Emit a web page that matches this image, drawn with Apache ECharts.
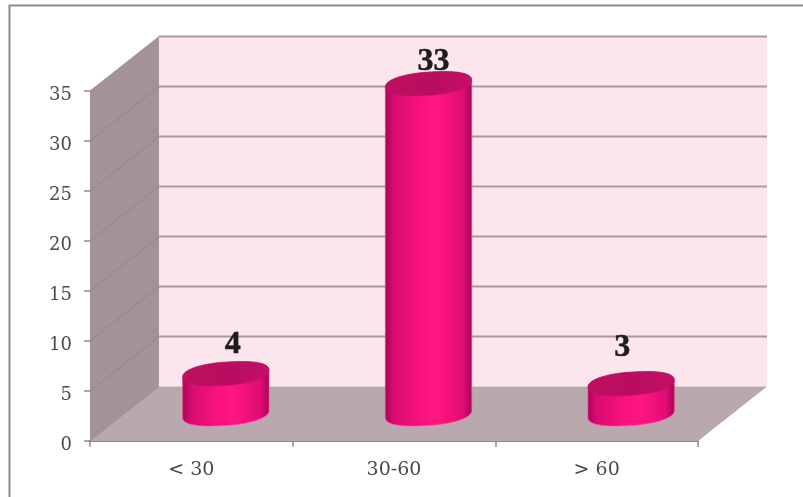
<!DOCTYPE html>
<html>
<head>
<meta charset="utf-8">
<style>html,body{margin:0;padding:0;background:#fff}#chart{width:803px;height:497px}</style>
<script src="https://cdn.jsdelivr.net/npm/echarts@6/dist/echarts.min.js"></script>
</head>
<body>
<div id="chart"></div>
<script>
// Age groups and their counts
const categories = ['< 30', '30-60', '> 60'];
const counts = [4, 33, 3];
const yTicks = [0, 5, 10, 15, 20, 25, 30, 35];

// Fake-3D depth of the plot box, in pixels
const DEPTH_X = 69, DEPTH_Y = -54.5;
// Hand-placed value labels, relative to the centre of each cylinder top
const labelNudge = [[7, -29], [5, -22], [-9, -36]];

const SERIF = '"DejaVu Serif", serif';
const chart = echarts.init(document.getElementById('chart'));

function poly(points, style) {
  return { type: 'polygon', shape: { points }, style, silent: true };
}

// Back wall, side wall and floor
function renderBox(params, api) {
  const c = params.coordSys;
  const l = c.x, r = c.x + c.width, t = c.y, b = c.y + c.height;
  return {
    type: 'group',
    children: [
      poly([[l + DEPTH_X, t + DEPTH_Y], [r + DEPTH_X, t + DEPTH_Y], [r + DEPTH_X, b + DEPTH_Y], [l + DEPTH_X, b + DEPTH_Y]], { fill: '#fde5ee' }),
      poly([[l, t], [l + DEPTH_X, t + DEPTH_Y], [l + DEPTH_X, b + DEPTH_Y], [l, b]], { fill: '#a3929a' }),
      poly([[l, b], [l + DEPTH_X, b + DEPTH_Y], [r + DEPTH_X, b + DEPTH_Y], [r, b]], { fill: '#b9a9ae' })
    ]
  };
}

// One gridline per tick: a diagonal across the side wall, then a run along the back wall
function renderGridline(params, api) {
  const c = params.coordSys;
  const y = api.coord([0, api.value(1)])[1];
  const l = c.x, r = c.x + c.width;
  const isFloor = api.value(1) === 0;
  return {
    type: 'group',
    children: [
      { type: 'line', silent: true,
        shape: { x1: l, y1: y, x2: l + DEPTH_X, y2: y + DEPTH_Y },
        style: { stroke: '#8a7a82', lineWidth: 1, opacity: 0.6 } },
      isFloor ? null : { type: 'line', silent: true,
        shape: { x1: l + DEPTH_X, y1: y + DEPTH_Y, x2: r + DEPTH_X, y2: y + DEPTH_Y },
        style: { stroke: '#ab97a0', lineWidth: 2 } }
    ].filter(Boolean)
  };
}

// Slightly rounded, tilted ellipse: vertical tangents at t = 0 and t = PI, right side raised
function ellipsePoints(cx, cy, rx, ry, tilt, from, to) {
  const pts = [];
  const steps = 64;
  const blunt = (u) => Math.sign(u) * Math.pow(Math.abs(u), 0.88);
  for (let i = 0; i <= steps; i++) {
    const t = from + (to - from) * i / steps;
    const cu = Math.cos(t), su = Math.sin(t);
    pts.push([cx + rx * blunt(cu), cy + ry * blunt(su) + tilt * Math.cos(t)]);
  }
  return pts;
}

// A cylinder standing midway across the floor
function renderCylinder(params, api) {
  const i = api.value(0), v = api.value(1);
  const top = api.coord([i, v]);
  const base = api.coord([i, 0]);
  const dx = DEPTH_X / 2, dy = DEPTH_Y / 2;
  const cx = top[0] + dx;
  const yTop = top[1] + dy, yBase = base[1] + dy;
  const rx = api.size([1, 0])[0] * 0.213, ry = 11.6, tilt = -3.6;
  const side = ellipsePoints(cx, yBase, rx, ry, tilt, 0, Math.PI)
    .concat(ellipsePoints(cx, yTop, rx, ry, tilt, Math.PI, 2 * Math.PI));
  const cap = ellipsePoints(cx, yTop, rx, ry, tilt, 0, 2 * Math.PI);
  const nudge = labelNudge[i];
  return {
    type: 'group',
    children: [
      poly(side, {
        fill: { type: 'linear', x: 0, y: 0, x2: 1, y2: 0, colorStops: [
          { offset: 0, color: '#a8045a' },
          { offset: 0.1, color: '#d80c70' },
          { offset: 0.4, color: '#f8127c' },
          { offset: 0.6, color: '#ff1682' },
          { offset: 0.9, color: '#e00c74' },
          { offset: 1, color: '#a80458' }
        ] },
        stroke: '#f0408e', lineWidth: 0.6
      }),
      poly(cap, {
        fill: { type: 'linear', x: 0, y: 0, x2: 1, y2: 0, colorStops: [
          { offset: 0, color: '#c0105f' },
          { offset: 0.5, color: '#b80d5e' },
          { offset: 1, color: '#c40f66' }
        ] },
        stroke: '#c81067', lineWidth: 0.6
      }),
      { type: 'text', silent: true,
        style: {
          x: cx + nudge[0], y: yTop + nudge[1],
          text: String(v),
          font: 'bold 32px "Liberation Serif", serif',
          fill: '#1c1c1c', stroke: '#1c1c1c', lineWidth: 0.5,
          align: 'center', verticalAlign: 'middle'
        } }
    ]
  };
}

chart.setOption({
  animation: false,
  backgroundColor: '#ffffff',
  grid: { left: 90, top: 91, width: 608, height: 350 },
  xAxis: {
    type: 'category',
    data: categories,
    axisLine: { show: true, lineStyle: { color: '#8f8a8c', width: 2 } },
    axisTick: { show: true, length: 6, lineStyle: { color: '#8f8a8c', width: 1.5 } },
    axisLabel: { color: '#4a4a4a', fontFamily: SERIF, fontSize: 19, margin: 20 }
  },
  yAxis: {
    type: 'value',
    min: 0, max: 35, interval: 5,
    axisLine: { show: false },
    axisTick: { show: true, length: 6, lineStyle: { color: '#8f8a8c', width: 1.5 } },
    splitLine: { show: false },
    axisLabel: {
      color: '#4a4a4a', fontFamily: SERIF, fontSize: 18, margin: 18,
      verticalAlign: 'top', lineHeight: 8,
      formatter: (v) => yTicks.includes(v) ? String(v) : ''
    }
  },
  series: [
    { type: 'custom', z: 1, silent: true, clip: false, renderItem: renderBox, data: [[0, 0]] },
    { type: 'custom', z: 2, silent: true, clip: false, renderItem: renderGridline,
      data: yTicks.map((t) => [0, t]), encode: { x: 0, y: 1 } },
    { type: 'custom', z: 3, silent: true, clip: false, renderItem: renderCylinder,
      data: counts.map((v, i) => [i, v]), encode: { x: 0, y: 1 } }
  ],
  // Thin frame along the top and left of the page
  graphic: [{
    type: 'polyline', silent: true,
    shape: { points: [[9.5, 497], [9.5, 5.5], [803, 5.5]] },
    style: { stroke: '#8c8c8c', lineWidth: 2, fill: 'none' }
  }]
});
</script>
</body>
</html>
